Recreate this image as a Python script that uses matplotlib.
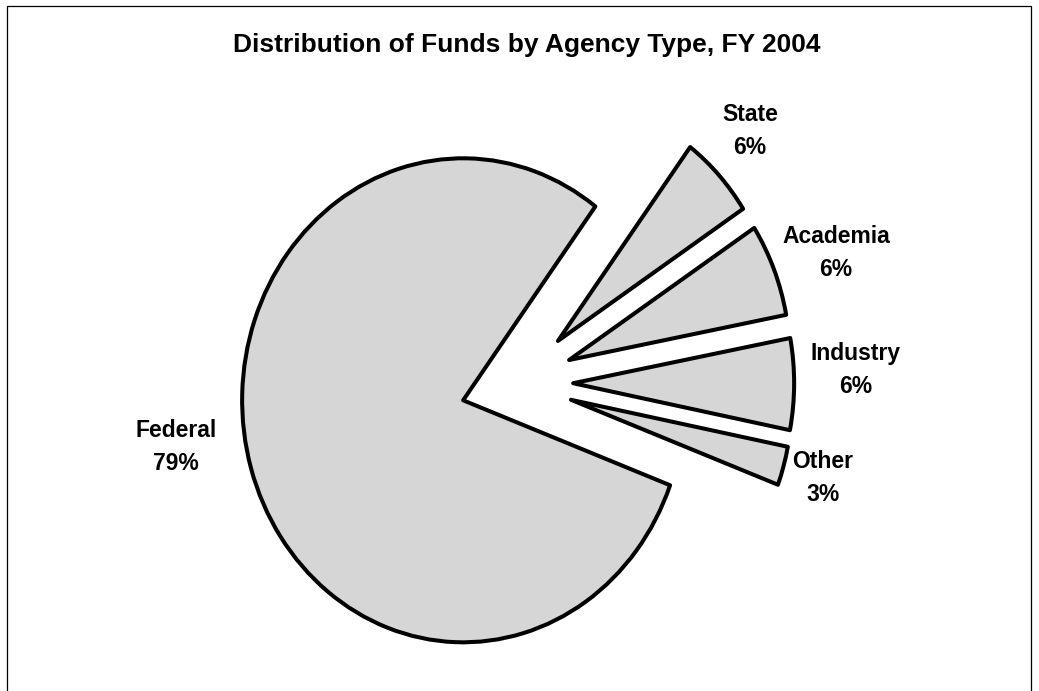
import matplotlib
matplotlib.use('Agg')
import matplotlib.pyplot as plt
from matplotlib.patches import Rectangle

# ---- data ----
categories = ['Federal', 'State', 'Academia', 'Industry', 'Other']
shares = [79.5, 5.6, 6.2, 6.1, 2.6]
pct_labels = ['79%', '6%', '6%', '6%', '3%']
title = 'Distribution of Funds by Agency Type, FY 2004'

# ---- layout / style ----
plt.rcParams['font.family'] = ['Liberation Sans', 'DejaVu Sans']
W, H = 1039, 691
fig = plt.figure(figsize=(W / 100, H / 100), dpi=100)
ax = fig.add_axes([0, 0, 1, 1])

fill = '#d6d6d6'
wedges, _ = ax.pie(
    shares,
    explode=[0.254] * len(shares),
    startangle=339.45,
    counterclock=False,
    colors=[fill] * len(shares),
    radius=1.0,
    wedgeprops=dict(edgecolor='black', linewidth=2.9, joinstyle='round'),
)

# pie centre / radii in pixels (elliptical pie as in the reference)
cx, cy, rx, ry = 517, 383, 221, 242
ax.set_aspect('auto')
ax.set_xlim(-cx / rx, (W - cx) / rx)
ax.set_ylim(-(H - cy) / ry, cy / ry)
ax.axis('off')

# label anchor positions in pixels (centre of two-line label)
label_pos = [(176, 447), (750, 131), (836, 253), (856, 370), (823, 478)]
for name, pct, (px, py) in zip(categories, pct_labels, label_pos):
    fig.text(px / W, 1 - py / H, f'{name}\n{pct}', ha='center', va='center',
             multialignment='center', fontsize=16.5, fontweight='bold',
             linespacing=1.58)

fig.text(527 / W, 1 - 45 / H, title, ha='center', va='center',
         fontsize=19, fontweight='bold')

# chart-area border (bottom edge lies outside the image)
fig.patches.append(Rectangle((7 / W, -0.05), (1031 - 7) / W, 1.05 - 6 / H,
                             transform=fig.transFigure, fill=False,
                             edgecolor='black', linewidth=0.9))

fig.savefig('out.png', dpi=100)
